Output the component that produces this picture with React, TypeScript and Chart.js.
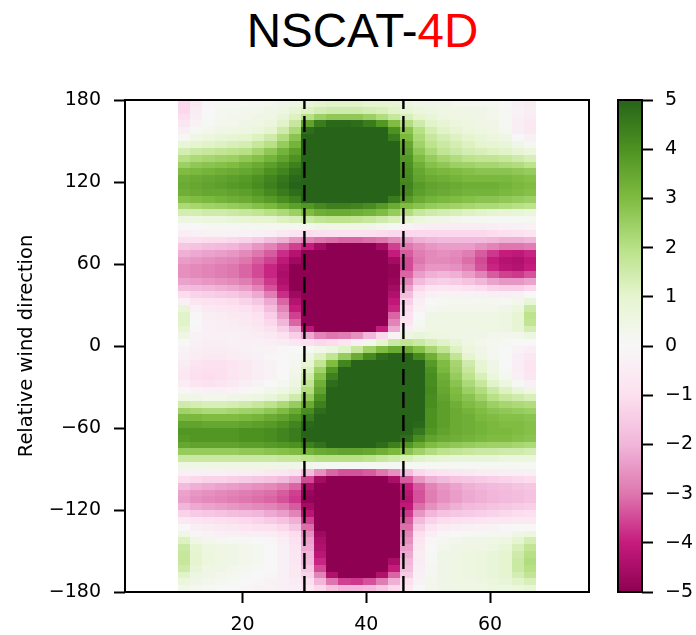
import { useEffect, useRef } from "react";
import { Chart, registerables } from "chart.js";

Chart.register(...registerables);

// Wind-speed bin centres (2 m/s wide bins)
const speedCenters = [
  10.5, 12.5, 14.5, 16.5, 18.5, 20.5, 22.5, 24.5, 26.5, 28.5, 30.5, 32.5, 34.5, 36.5, 38.5,
  40.5, 42.5, 44.5, 46.5, 48.5, 50.5, 52.5, 54.5, 56.5, 58.5, 60.5, 62.5, 64.5, 66.5,
];
const speedBinWidth = 2;

// Lower edges of the 5° relative-direction bins, top to bottom
const directionEdges = [
  175, 170, 165, 160, 155, 150, 145, 140, 135, 130, 125, 120, 115, 110, 105, 100, 95, 90,
  85, 80, 75, 70, 65, 60, 55, 50, 45, 40, 35, 30, 25, 20, 15, 10, 5, 0,
  -5, -10, -15, -20, -25, -30, -35, -40, -45, -50, -55, -60, -65, -70, -75, -80, -85, -90,
  -95, -100, -105, -110, -115, -120, -125, -130, -135, -140, -145, -150, -155, -160, -165, -170, -175, -180,
];
const directionBinWidth = 5;

// Difference values per direction bin (named by lower edge), one entry per speed bin
const deg175 = [-1.2, -0.6, -0.1, 0.1, 0.1, 0.1, 0.2, 0.3, 0.4, 0.6, 0.8, 1.0, 1.1, 1.1, 1.1, 1.0, 1.0, 0.9, 0.7, 0.5, 0.4, 0.4, 0.3, 0.3, 0.2, 0.2, 0, -0.3, -0.5];
const deg170 = [-1.2, -0.5, 0, 0.2, 0.2, 0.3, 0.3, 0.4, 0.6, 0.9, 1.2, 1.4, 1.5, 1.5, 1.5, 1.4, 1.3, 1.1, 0.9, 0.7, 0.6, 0.5, 0.5, 0.4, 0.4, 0.3, 0.1, -0.2, -0.4];
const deg165 = [-1.0, -0.4, 0, 0.2, 0.3, 0.3, 0.4, 0.5, 0.8, 1.2, 2.0, 2.5, 2.7, 2.7, 2.7, 2.5, 2.1, 1.7, 1.3, 1.0, 0.8, 0.6, 0.5, 0.5, 0.4, 0.3, 0.1, -0.3, -0.5];
const deg160 = [-0.7, -0.2, 0.1, 0.3, 0.3, 0.4, 0.5, 0.7, 1.1, 1.7, 3.6, 4.5, 4.9, 4.9, 4.8, 4.5, 3.9, 3.0, 2.1, 1.5, 1.1, 0.9, 0.7, 0.6, 0.5, 0.4, 0.1, -0.4, -0.6];
const deg155 = [-0.4, 0.1, 0.3, 0.4, 0.5, 0.6, 0.7, 1.0, 1.5, 2.2, 4.8, 5.8, 6, 6, 6, 5.8, 5.1, 4.0, 2.8, 2.0, 1.4, 1.1, 0.9, 0.7, 0.6, 0.5, 0.2, -0.4, -0.6];
const deg150 = [0.1, 0.5, 0.7, 0.8, 0.9, 1.0, 1.2, 1.5, 2.1, 2.8, 5.2, 6, 6, 6, 6, 6, 5.7, 4.5, 3.1, 2.2, 1.7, 1.4, 1.2, 1.0, 0.8, 0.7, 0.5, 0, -0.3];
const deg145 = [0.8, 1.0, 1.1, 1.2, 1.3, 1.4, 1.7, 2.0, 2.6, 3.2, 5.5, 6, 6, 6, 6, 6, 6, 5.0, 3.5, 2.4, 1.9, 1.6, 1.4, 1.2, 1.0, 0.9, 0.8, 0.4, 0.2];
const deg140 = [1.4, 1.6, 1.7, 1.8, 1.9, 2.0, 2.3, 2.7, 3.2, 3.7, 5.8, 6, 6, 6, 6, 6, 6, 5.2, 3.7, 2.7, 2.2, 1.8, 1.6, 1.4, 1.3, 1.2, 1.1, 0.9, 0.7];
const deg135 = [2.0, 2.2, 2.3, 2.4, 2.5, 2.7, 2.9, 3.2, 3.6, 4.0, 6, 6, 6, 6, 6, 6, 6, 5.3, 3.9, 3.0, 2.6, 2.3, 2.1, 1.9, 1.8, 1.8, 1.7, 1.5, 1.3];
const deg130 = [2.5, 2.7, 2.8, 2.9, 3.0, 3.2, 3.4, 3.7, 4.0, 4.4, 6, 6, 6, 6, 6, 6, 6, 5.3, 4.0, 3.3, 2.9, 2.7, 2.5, 2.4, 2.3, 2.3, 2.2, 2.1, 1.9];
const deg125 = [3.0, 3.1, 3.2, 3.3, 3.4, 3.5, 3.7, 4.0, 4.3, 4.7, 6, 6, 6, 6, 6, 6, 6, 5.3, 4.1, 3.5, 3.2, 3.1, 3.0, 2.9, 2.8, 2.8, 2.8, 2.7, 2.6];
const deg120 = [3.3, 3.4, 3.5, 3.6, 3.7, 3.8, 4.0, 4.3, 4.6, 4.9, 6, 6, 6, 6, 6, 6, 6, 5.3, 4.2, 3.6, 3.4, 3.3, 3.2, 3.1, 3.1, 3.1, 3.1, 3.0, 2.9];
const deg115 = [3.4, 3.5, 3.6, 3.7, 3.8, 3.9, 4.1, 4.4, 4.7, 5.0, 6, 6, 6, 6, 6, 6, 6, 5.3, 4.3, 3.8, 3.6, 3.5, 3.4, 3.3, 3.3, 3.3, 3.2, 3.1, 3.0];
const deg110 = [3.3, 3.4, 3.5, 3.5, 3.6, 3.7, 3.9, 4.2, 4.5, 4.8, 6, 6, 6, 6, 6, 6, 6, 5.2, 4.2, 3.7, 3.5, 3.4, 3.3, 3.2, 3.2, 3.2, 3.1, 3.0, 2.9];
const deg105 = [2.9, 3.0, 3.1, 3.2, 3.3, 3.4, 3.6, 3.8, 4.1, 4.4, 5.4, 6, 6, 6, 6, 5.8, 5.3, 4.5, 3.8, 3.4, 3.2, 3.1, 3.0, 2.9, 2.8, 2.8, 2.7, 2.6, 2.5];
const deg100 = [2.2, 2.3, 2.4, 2.5, 2.6, 2.7, 2.9, 3.1, 3.4, 3.7, 3.9, 4.2, 4.4, 4.4, 4.3, 4.1, 3.8, 3.4, 3.0, 2.8, 2.6, 2.5, 2.4, 2.3, 2.2, 2.2, 2.1, 2.0, 1.9];
const deg95 = [1.4, 1.4, 1.5, 1.5, 1.6, 1.7, 1.8, 2.0, 2.2, 2.5, 3.0, 3.3, 3.4, 3.4, 3.3, 3.2, 3.0, 2.6, 2.1, 1.7, 1.5, 1.4, 1.3, 1.2, 1.1, 1.0, 0.9, 0.8, 0.7];
const deg90 = [0.6, 0.6, 0.7, 0.7, 0.8, 0.9, 1.0, 1.0, 1.2, 1.3, 1.6, 1.8, 1.9, 1.9, 1.8, 1.7, 1.5, 1.3, 1.0, 0.7, 0.5, 0.4, 0.3, 0.2, 0.2, 0.1, 0.1, 0.1, 0.1];
const deg85 = [0, 0, 0.1, 0.1, 0.1, 0.2, 0.2, 0.2, 0.2, 0.2, 0.3, 0.4, 0.5, 0.5, 0.5, 0.4, 0.3, 0.1, -0.2, -0.4, -0.5, -0.5, -0.5, -0.5, -0.5, -0.4, -0.3, -0.3, -0.2];
const deg80 = [-0.4, -0.3, -0.2, -0.2, -0.2, -0.2, -0.3, -0.4, -0.6, -0.8, -1.1, -1.0, -0.9, -0.9, -0.9, -1.0, -1.1, -1.2, -1.2, -1.2, -1.2, -1.2, -1.2, -1.2, -1.2, -1.1, -1.0, -0.9, -0.8];
const deg75 = [-1.0, -1.0, -1.1, -1.1, -1.2, -1.3, -1.5, -1.8, -2.1, -2.5, -2.8, -3.0, -3.1, -3.2, -3.2, -3.1, -3.0, -2.7, -2.4, -2.1, -2.0, -1.9, -1.9, -1.9, -1.9, -2.0, -2.1, -2.1, -2.0];
const deg70 = [-1.6, -1.7, -1.8, -1.9, -2.0, -2.2, -2.5, -2.8, -3.2, -3.6, -4.0, -4.6, -5.0, -5.1, -5.1, -5.0, -4.6, -3.6, -3.0, -2.7, -2.5, -2.4, -2.4, -2.4, -2.6, -2.8, -3.0, -3.0, -2.9];
const deg65 = [-2.1, -2.2, -2.3, -2.4, -2.5, -2.7, -3.0, -3.3, -3.8, -4.3, -5.0, -5.8, -6, -6, -6, -6, -5.4, -4.0, -3.3, -2.9, -2.7, -2.6, -2.7, -2.9, -3.3, -3.7, -4.0, -4.1, -3.9];
const deg60 = [-2.4, -2.5, -2.6, -2.7, -2.8, -3.0, -3.3, -3.6, -4.1, -4.7, -5.8, -6, -6, -6, -6, -6, -6, -4.6, -3.5, -3.0, -2.7, -2.7, -2.8, -3.1, -3.5, -4.0, -4.3, -4.4, -4.1];
const deg55 = [-2.6, -2.7, -2.8, -2.9, -3.0, -3.2, -3.5, -3.9, -4.4, -5.0, -6, -6, -6, -6, -6, -6, -6, -4.9, -3.5, -2.8, -2.5, -2.5, -2.6, -2.9, -3.4, -3.9, -4.2, -4.3, -4.0];
const deg50 = [-2.6, -2.7, -2.8, -2.9, -3.0, -3.2, -3.5, -3.9, -4.5, -5.2, -6, -6, -6, -6, -6, -6, -6, -4.9, -3.2, -2.4, -2.1, -2.0, -2.1, -2.4, -2.8, -3.3, -3.6, -3.7, -3.4];
const deg45 = [-2.3, -2.4, -2.5, -2.6, -2.7, -2.9, -3.2, -3.7, -4.4, -5.2, -6, -6, -6, -6, -6, -6, -6, -4.8, -2.8, -1.9, -1.5, -1.4, -1.5, -1.7, -2.0, -2.3, -2.5, -2.5, -2.3];
const deg40 = [-1.8, -1.9, -2.0, -2.1, -2.2, -2.4, -2.8, -3.4, -4.2, -5.0, -6, -6, -6, -6, -6, -6, -6, -4.6, -2.3, -1.2, -0.8, -0.7, -0.8, -0.9, -1.1, -1.3, -1.4, -1.4, -1.2];
const deg35 = [-1.1, -1.3, -1.4, -1.5, -1.6, -1.8, -2.2, -2.9, -3.8, -4.7, -6, -6, -6, -6, -6, -6, -6, -4.4, -1.8, -0.7, -0.3, -0.2, -0.2, -0.2, -0.3, -0.4, -0.4, -0.3, 0];
const deg30 = [-0.3, -0.8, -0.9, -1.0, -1.1, -1.3, -1.6, -2.2, -3.2, -4.3, -5.8, -6, -6, -6, -6, -6, -6, -4.1, -1.4, -0.4, 0, 0.1, 0.2, 0.2, 0.2, 0.2, 0.1, 0.3, 0.8];
const deg25 = [0.8, -0.3, -0.6, -0.7, -0.8, -0.9, -1.2, -1.8, -2.8, -4.0, -5.6, -6, -6, -6, -6, -6, -6, -3.9, -1.1, -0.2, 0.2, 0.3, 0.3, 0.3, 0.3, 0.3, 0.4, 0.7, 1.6];
const deg20 = [1.1, -0.1, -0.4, -0.5, -0.6, -0.7, -0.9, -1.4, -2.4, -3.6, -5.4, -6, -6, -6, -6, -6, -5.7, -3.2, -0.9, 0, 0.4, 0.5, 0.5, 0.5, 0.5, 0.5, 0.6, 0.9, 1.9];
const deg15 = [1.1, 0, -0.3, -0.4, -0.5, -0.6, -0.8, -1.2, -2.0, -3.2, -5.0, -5.9, -6, -6, -6, -6, -5.2, -2.8, -0.8, 0.1, 0.5, 0.5, 0.5, 0.5, 0.5, 0.5, 0.6, 0.9, 1.8];
const deg10 = [0.9, -0.1, -0.3, -0.4, -0.4, -0.5, -0.6, -0.9, -1.4, -2.2, -4.2, -5.4, -6, -6, -5.9, -5.2, -4.0, -2.2, -0.4, 0.3, 0.5, 0.5, 0.5, 0.5, 0.5, 0.5, 0.6, 0.9, 1.4];
const deg5 = [0.5, -0.2, -0.3, -0.3, -0.3, -0.4, -0.5, -0.6, -0.9, -1.4, -2.2, -2.8, -3.0, -2.9, -2.6, -2.0, -1.2, -0.2, 0.6, 0.8, 0.7, 0.6, 0.5, 0.4, 0.4, 0.3, 0.3, 0.3, 0.6];
const deg0 = [0, -0.3, -0.4, -0.4, -0.3, -0.3, -0.3, -0.4, -0.5, -0.7, -1.0, -1.2, -1.1, -0.8, -0.3, 0.3, 1.0, 1.6, 1.8, 1.6, 1.3, 1.1, 0.8, 0.5, 0.3, 0.2, 0.1, 0, 0];
const degM5 = [-0.2, -0.4, -0.5, -0.5, -0.4, -0.3, -0.2, -0.2, -0.1, 0, 0.1, 0.3, 0.6, 1.1, 1.7, 2.4, 3.0, 3.4, 3.4, 2.9, 2.3, 1.8, 1.2, 0.7, 0.4, 0.2, 0, -0.2, -0.4];
const degM10 = [-0.3, -0.5, -0.6, -0.6, -0.5, -0.4, -0.3, -0.1, 0, 0.1, 0.6, 1.2, 1.8, 2.6, 3.4, 4.2, 4.8, 5.2, 5.0, 4.2, 3.3, 2.6, 1.8, 1.0, 0.5, 0.2, 0, -0.4, -0.7];
const degM15 = [-0.5, -0.8, -0.9, -0.9, -0.8, -0.6, -0.4, -0.2, 0, 0.2, 0.9, 1.8, 3.0, 4.3, 5.2, 6, 6, 6, 6, 5.0, 3.8, 3.0, 2.3, 1.5, 0.9, 0.4, 0, -0.4, -0.8];
const degM20 = [-0.6, -0.9, -1.0, -1.0, -0.8, -0.6, -0.4, -0.2, 0, 0.3, 1.2, 2.4, 3.9, 5.2, 6, 6, 6, 6, 6, 5.2, 4.0, 3.1, 2.4, 1.7, 1.0, 0.5, 0.1, -0.4, -0.8];
const degM25 = [-0.7, -1.0, -1.1, -1.0, -0.8, -0.6, -0.4, -0.2, 0, 0.4, 1.5, 2.9, 4.4, 5.6, 6, 6, 6, 6, 6, 5.3, 4.1, 3.3, 2.6, 1.9, 1.3, 0.7, 0.2, -0.3, -0.7];
const degM30 = [-0.5, -0.8, -0.9, -0.8, -0.6, -0.4, -0.2, 0, 0.2, 0.6, 1.8, 3.3, 4.8, 5.8, 6, 6, 6, 6, 6, 5.3, 4.1, 3.4, 2.8, 2.2, 1.7, 1.1, 0.6, 0.1, -0.3];
const degM35 = [-0.1, -0.2, -0.3, -0.3, -0.2, -0.1, 0.1, 0.3, 0.5, 0.9, 2.1, 3.6, 5.0, 6, 6, 6, 6, 6, 6, 5.3, 4.2, 3.5, 3.0, 2.5, 2.1, 1.6, 1.2, 0.8, 0.5];
const degM40 = [0.5, 0.4, 0.3, 0.3, 0.4, 0.5, 0.6, 0.8, 1.1, 1.5, 2.6, 4.0, 5.3, 6, 6, 6, 6, 6, 6, 5.2, 4.1, 3.6, 3.1, 2.8, 2.4, 2.0, 1.7, 1.5, 1.3];
const degM45 = [1.5, 1.4, 1.3, 1.3, 1.4, 1.5, 1.7, 1.9, 2.2, 2.6, 3.4, 4.4, 5.5, 6, 6, 6, 6, 6, 6, 5.1, 4.1, 3.7, 3.3, 3.0, 2.8, 2.5, 2.3, 2.2, 2.1];
const degM50 = [2.4, 2.3, 2.2, 2.2, 2.3, 2.4, 2.5, 2.7, 3.0, 3.4, 4.1, 4.8, 5.7, 6, 6, 6, 6, 6, 6, 5.0, 4.0, 3.7, 3.4, 3.2, 3.0, 2.8, 2.7, 2.6, 2.5];
const degM55 = [3.1, 3.1, 3.0, 3.0, 3.0, 3.1, 3.2, 3.4, 3.6, 3.9, 4.5, 5.1, 5.9, 6, 6, 6, 6, 6, 6, 5.0, 4.0, 3.7, 3.4, 3.3, 3.1, 3.0, 2.9, 2.9, 2.8];
const degM60 = [3.6, 3.6, 3.5, 3.5, 3.5, 3.6, 3.7, 3.8, 4.0, 4.3, 4.9, 5.5, 6, 6, 6, 6, 6, 6, 5.9, 4.9, 4.0, 3.7, 3.4, 3.3, 3.2, 3.1, 3.0, 3.0, 2.9];
const degM65 = [3.9, 3.9, 3.9, 3.9, 3.9, 4.0, 4.0, 4.1, 4.3, 4.5, 5.1, 5.7, 6, 6, 6, 6, 6, 6, 5.5, 4.6, 3.9, 3.6, 3.4, 3.3, 3.2, 3.1, 3.1, 3.0, 2.9];
const degM70 = [3.8, 3.9, 3.9, 3.9, 3.9, 4.0, 4.0, 4.1, 4.3, 4.5, 5.0, 5.4, 5.9, 6, 6, 6, 5.8, 5.4, 4.8, 4.1, 3.6, 3.4, 3.3, 3.2, 3.1, 3.0, 3.0, 2.9, 2.8];
const degM75 = [3.5, 3.6, 3.6, 3.6, 3.6, 3.7, 3.7, 3.8, 3.9, 4.0, 4.4, 4.7, 5.0, 5.1, 5.1, 5.0, 4.8, 4.4, 3.9, 3.4, 3.0, 2.8, 2.7, 2.6, 2.5, 2.4, 2.4, 2.3, 2.2];
const degM80 = [2.6, 2.6, 2.6, 2.6, 2.6, 2.7, 2.7, 2.8, 2.9, 3.0, 3.2, 3.4, 3.5, 3.6, 3.6, 3.5, 3.3, 3.1, 2.8, 2.4, 2.1, 1.9, 1.8, 1.7, 1.6, 1.6, 1.5, 1.5, 1.4];
const degM85 = [1.6, 1.6, 1.6, 1.6, 1.6, 1.6, 1.6, 1.6, 1.7, 1.7, 1.9, 2.0, 2.0, 2.0, 2.0, 1.9, 1.7, 1.5, 1.3, 1.1, 1.0, 0.9, 0.8, 0.8, 0.8, 0.8, 0.7, 0.7, 0.7];
const degM90 = [0.5, 0.5, 0.5, 0.5, 0.5, 0.5, 0.5, 0.5, 0.4, 0.4, 0.3, 0.2, 0.1, 0.1, 0.1, 0.1, 0.1, 0.1, 0.1, 0.1, 0.1, 0.1, 0.1, 0.1, 0.1, 0.1, 0.1, 0.1, 0.1];
const degM95 = [-0.3, -0.3, -0.3, -0.3, -0.4, -0.4, -0.5, -0.6, -0.7, -0.9, -1.8, -2.6, -3.2, -3.4, -3.4, -3.3, -3.0, -2.6, -1.8, -1.2, -0.9, -0.8, -0.7, -0.6, -0.5, -0.5, -0.4, -0.4, -0.3];
const degM100 = [-1.1, -1.2, -1.3, -1.3, -1.4, -1.5, -1.6, -1.7, -1.9, -2.2, -3.5, -4.6, -5.2, -5.4, -5.4, -5.3, -5.0, -4.5, -3.3, -2.5, -2.1, -1.9, -1.7, -1.6, -1.5, -1.4, -1.3, -1.2, -1.1];
const degM105 = [-1.9, -2.1, -2.2, -2.3, -2.4, -2.5, -2.6, -2.7, -2.9, -3.2, -4.5, -5.5, -6, -6, -6, -6, -5.8, -5.3, -4.0, -3.3, -2.8, -2.5, -2.3, -2.1, -2.0, -1.9, -1.8, -1.7, -1.6];
const degM110 = [-2.3, -2.5, -2.6, -2.7, -2.8, -2.9, -3.0, -3.1, -3.3, -3.6, -4.8, -5.8, -6, -6, -6, -6, -6, -5.6, -4.2, -3.4, -2.9, -2.6, -2.4, -2.2, -2.1, -2.0, -1.9, -1.8, -1.7];
const degM115 = [-2.4, -2.6, -2.7, -2.8, -2.9, -3.0, -3.1, -3.2, -3.4, -3.7, -4.9, -5.9, -6, -6, -6, -6, -6, -5.7, -4.3, -3.4, -2.9, -2.6, -2.4, -2.2, -2.1, -2.0, -1.9, -1.8, -1.7];
const degM120 = [-2.0, -2.2, -2.3, -2.4, -2.5, -2.6, -2.7, -2.8, -3.0, -3.3, -4.6, -5.8, -6, -6, -6, -6, -6, -5.7, -4.1, -3.1, -2.6, -2.3, -2.1, -1.9, -1.8, -1.7, -1.6, -1.5, -1.4];
const degM125 = [-1.3, -1.5, -1.6, -1.7, -1.8, -1.9, -2.0, -2.2, -2.4, -2.8, -4.2, -5.5, -6, -6, -6, -6, -6, -5.6, -3.7, -2.5, -2.0, -1.7, -1.6, -1.5, -1.4, -1.3, -1.2, -1.1, -1.0];
const degM130 = [-0.6, -0.8, -0.9, -1.0, -1.1, -1.2, -1.3, -1.5, -1.7, -2.1, -3.6, -5.2, -6, -6, -6, -6, -6, -5.5, -3.3, -1.9, -1.3, -1.1, -1.0, -0.9, -0.8, -0.7, -0.7, -0.6, -0.6];
const degM135 = [0, -0.4, -0.5, -0.6, -0.7, -0.8, -0.9, -1.0, -1.2, -1.6, -3.1, -5.0, -6, -6, -6, -6, -6, -5.5, -3.1, -1.4, -0.8, -0.5, -0.4, -0.3, -0.2, -0.2, -0.1, 0, 0];
const degM140 = [0.5, -0.1, -0.2, -0.3, -0.3, -0.4, -0.4, -0.5, -0.7, -1.1, -2.6, -4.7, -6, -6, -6, -6, -6, -5.4, -2.8, -1.0, -0.4, -0.1, 0, 0.1, 0.1, 0.2, 0.2, 0.4, 0.6];
const degM145 = [1.2, 0.5, 0.3, 0.2, 0.1, 0.1, 0, -0.1, -0.4, -0.9, -2.3, -4.5, -6, -6, -6, -6, -6, -5.3, -2.6, -0.8, -0.1, 0.2, 0.3, 0.4, 0.4, 0.5, 0.6, 1.0, 1.4];
const degM150 = [1.6, 0.9, 0.6, 0.5, 0.4, 0.3, 0.2, 0, -0.3, -0.8, -2.2, -4.4, -6, -6, -6, -6, -6, -5.2, -2.4, -0.6, 0, 0.3, 0.4, 0.5, 0.5, 0.6, 0.8, 1.3, 1.8];
const degM155 = [1.7, 1.0, 0.7, 0.5, 0.4, 0.3, 0.2, 0, -0.3, -0.7, -2.0, -4.2, -6, -6, -6, -6, -6, -5.0, -2.2, -0.5, 0.1, 0.4, 0.5, 0.6, 0.7, 0.8, 1.0, 1.5, 2.0];
const degM160 = [1.7, 1.0, 0.7, 0.5, 0.4, 0.3, 0.2, 0, -0.3, -0.7, -1.9, -3.9, -5.7, -6, -6, -6, -5.7, -4.5, -2.0, -0.5, 0.1, 0.4, 0.5, 0.6, 0.7, 0.8, 1.0, 1.6, 2.1];
const degM165 = [1.5, 0.8, 0.5, 0.4, 0.3, 0.2, 0.1, 0, -0.3, -0.6, -1.6, -3.5, -5.3, -6, -6, -5.9, -5.2, -4.0, -1.8, -0.4, 0.2, 0.4, 0.5, 0.6, 0.7, 0.8, 1.0, 1.6, 2.0];
const degM170 = [1.1, 0.6, 0.4, 0.3, 0.2, 0.1, 0, -0.1, -0.3, -0.6, -1.3, -2.8, -4.4, -5.3, -5.4, -5.1, -4.4, -3.2, -1.5, -0.3, 0.2, 0.4, 0.5, 0.6, 0.7, 0.8, 1.0, 1.4, 1.8];
const degM175 = [0.7, 0.4, 0.3, 0.2, 0.1, 0, -0.1, -0.2, -0.3, -0.5, -1.0, -2.0, -3.0, -3.6, -3.7, -3.4, -2.9, -2.1, -1.0, -0.2, 0.3, 0.4, 0.5, 0.5, 0.6, 0.7, 0.8, 1.1, 1.3];
const degM180 = [0.3, 0.2, 0.1, 0, 0, -0.1, -0.2, -0.2, -0.3, -0.4, -0.7, -1.2, -1.7, -2.0, -2.0, -1.9, -1.6, -1.2, -0.6, 0, 0.3, 0.4, 0.4, 0.5, 0.5, 0.6, 0.6, 0.7, 0.8];

const rows = [
  deg175, deg170, deg165, deg160, deg155, deg150, deg145, deg140, deg135, deg130, deg125, deg120,
  deg115, deg110, deg105, deg100, deg95, deg90, deg85, deg80, deg75, deg70, deg65, deg60,
  deg55, deg50, deg45, deg40, deg35, deg30, deg25, deg20, deg15, deg10, deg5, deg0,
  degM5, degM10, degM15, degM20, degM25, degM30, degM35, degM40, degM45, degM50, degM55, degM60,
  degM65, degM70, degM75, degM80, degM85, degM90, degM95, degM100, degM105, degM110, degM115, degM120,
  degM125, degM130, degM135, degM140, degM145, degM150, degM155, degM160, degM165, degM170, degM175, degM180,
];

// Axis ticks and reference speeds
const speedTicks = [20, 40, 60];
const directionTicks = [-180, -120, -60, 0, 60, 120, 180];
const colorTicks = [-5, -4, -3, -2, -1, 0, 1, 2, 3, 4, 5];
const referenceSpeeds = [30, 46];

// PiYG colour map anchors, evenly spaced from -5 to 5
const piyg = [
  "#8e0152", "#c51b7d", "#de77ae", "#f1b6da", "#fde0ef", "#f7f7f7",
  "#e6f5d0", "#b8e186", "#7fbc41", "#4d9221", "#276419",
];
const vmin = -5;
const vmax = 5;

const hexToRgb = (h: string) => [
  parseInt(h.slice(1, 3), 16),
  parseInt(h.slice(3, 5), 16),
  parseInt(h.slice(5, 7), 16),
];
const piygRgb = piyg.map(hexToRgb);

function colorFor(v: number): string {
  const t = Math.min(1, Math.max(0, (v - vmin) / (vmax - vmin))) * (piyg.length - 1);
  const i = Math.min(piyg.length - 2, Math.floor(t));
  const f = t - i;
  const a = piygRgb[i];
  const b = piygRgb[i + 1];
  const c = a.map((x, k) => Math.round(x + (b[k] - x) * f));
  return `rgb(${c[0]},${c[1]},${c[2]})`;
}

const minus = (v: number) => (v < 0 ? "\u2212" + Math.abs(v) : String(v));
const tickFont = { family: "'DejaVu Sans', sans-serif", size: 19 };
const labelFont = { family: "'DejaVu Sans', sans-serif", size: 19.5 };

const heatmapPlugin = {
  id: "heatmap",
  beforeDatasetsDraw(chart: any) {
    const { ctx } = chart;
    const xs = chart.scales.x;
    const ys = chart.scales.y;
    ctx.save();
    directionEdges.forEach((lo, r) => {
      const yTop = Math.round(ys.getPixelForValue(lo + directionBinWidth));
      const yBot = Math.round(ys.getPixelForValue(lo));
      speedCenters.forEach((sc, c) => {
        const x0 = Math.round(xs.getPixelForValue(sc - speedBinWidth / 2));
        const x1 = Math.round(xs.getPixelForValue(sc + speedBinWidth / 2));
        ctx.fillStyle = colorFor(rows[r][c]);
        ctx.fillRect(x0, yTop, x1 - x0, yBot - yTop);
      });
    });
    ctx.restore();
  },
};

const framePlugin = {
  id: "frame",
  afterDraw(chart: any) {
    const { ctx, chartArea: a } = chart;
    ctx.save();
    ctx.strokeStyle = "#000";
    ctx.lineWidth = 2;
    ctx.strokeRect(a.left, a.top, a.right - a.left, a.bottom - a.top);
    ctx.restore();
  },
};

const colorbarPlugin = {
  id: "colorbar",
  beforeDatasetsDraw(chart: any) {
    const { ctx, chartArea: a } = chart;
    const ys = chart.scales.y;
    const y0 = ys.getPixelForValue(vmin);
    const y1 = ys.getPixelForValue(vmax);
    const g = ctx.createLinearGradient(0, y0, 0, y1);
    piyg.forEach((col, i) => g.addColorStop(i / (piyg.length - 1), col));
    ctx.save();
    ctx.fillStyle = g;
    ctx.fillRect(a.left, a.top, a.right - a.left, a.bottom - a.top);
    ctx.restore();
  },
};

const tickGrid = {
  display: true,
  drawOnChartArea: false,
  drawTicks: true,
  tickLength: 11,
  tickWidth: 2,
  tickColor: "#000",
};

export default function App() {
  const mainRef = useRef<HTMLCanvasElement>(null);
  const barRef = useRef<HTMLCanvasElement>(null);

  useEffect(() => {
    const lineSets = referenceSpeeds.map((s) => ({
      type: "scatter" as const,
      data: [
        { x: s, y: -180 },
        { x: s, y: 180 },
      ],
      showLine: true,
      borderColor: "#000",
      borderWidth: 2.4,
      borderDash: [16, 7],
      pointRadius: 0,
      fill: false,
    }));

    const main = new Chart(mainRef.current!, {
      type: "scatter",
      data: { datasets: lineSets as any },
      options: {
        animation: false,
        responsive: false,
        devicePixelRatio: 1,
        layout: { padding: { left: 0, top: 100, right: 107, bottom: 0 } },
        plugins: { legend: { display: false }, tooltip: { enabled: false } },
        scales: {
          x: {
            type: "linear",
            min: 1,
            max: 76,
            afterBuildTicks: (s: any) => {
              s.ticks = speedTicks.map((v) => ({ value: v }));
            },
            afterFit: (s: any) => {
              s.height = 43;
            },
            ticks: { font: tickFont, color: "#000", padding: 11, maxRotation: 0, autoSkip: false, callback: (v: any) => minus(Number(v)) },
            grid: tickGrid,
            border: { display: false },
          },
          y: {
            type: "linear",
            min: -180,
            max: 180,
            afterBuildTicks: (s: any) => {
              s.ticks = directionTicks.map((v) => ({ value: v }));
            },
            afterFit: (s: any) => {
              s.width = 125;
            },
            ticks: { font: tickFont, color: "#000", padding: 13, autoSkip: false, callback: (v: any) => minus(Number(v)) },
            grid: tickGrid,
            border: { display: false },
            title: {
              display: true,
              text: "Relative wind direction",
              font: labelFont,
              color: "#000",
              padding: { top: 15, bottom: 0 },
            },
          },
        },
      },
      plugins: [heatmapPlugin, framePlugin],
    } as any);

    const bar = new Chart(barRef.current!, {
      type: "scatter",
      data: { datasets: [] },
      options: {
        animation: false,
        responsive: false,
        devicePixelRatio: 1,
        layout: { padding: { left: 618, top: 100, right: 0, bottom: 43 } },
        plugins: { legend: { display: false }, tooltip: { enabled: false } },
        scales: {
          x: { display: false, min: 0, max: 1 },
          y: {
            type: "linear",
            position: "right",
            min: vmin,
            max: vmax,
            afterBuildTicks: (s: any) => {
              s.ticks = colorTicks.map((v) => ({ value: v }));
            },
            afterFit: (s: any) => {
              s.width = 54;
            },
            ticks: { font: tickFont, color: "#000", padding: 12, autoSkip: false, callback: (v: any) => minus(Number(v)) },
            grid: tickGrid,
            border: { display: false },
          },
        },
      },
      plugins: [colorbarPlugin, framePlugin],
    } as any);

    return () => {
      main.destroy();
      bar.destroy();
    };
  }, []);

  return (
    <div style={{ position: "absolute", left: 0, top: 0, width: 696, height: 635, background: "#fff" }}>
      <div
        style={{
          position: "absolute",
          left: 0,
          top: 7,
          width: 725,
          textAlign: "center",
          fontFamily: "'Liberation Sans', Arial, sans-serif",
          fontSize: 47.5,
          lineHeight: "47.5px",
          color: "#000",
          whiteSpace: "nowrap",
        }}
      >
        NSCAT-<span style={{ color: "#ff0000" }}>4D</span>
      </div>
      <canvas ref={mainRef} width={696} height={635} style={{ position: "absolute", left: 0, top: 0 }} />
      <canvas ref={barRef} width={696} height={635} style={{ position: "absolute", left: 0, top: 0 }} />
    </div>
  );
}
